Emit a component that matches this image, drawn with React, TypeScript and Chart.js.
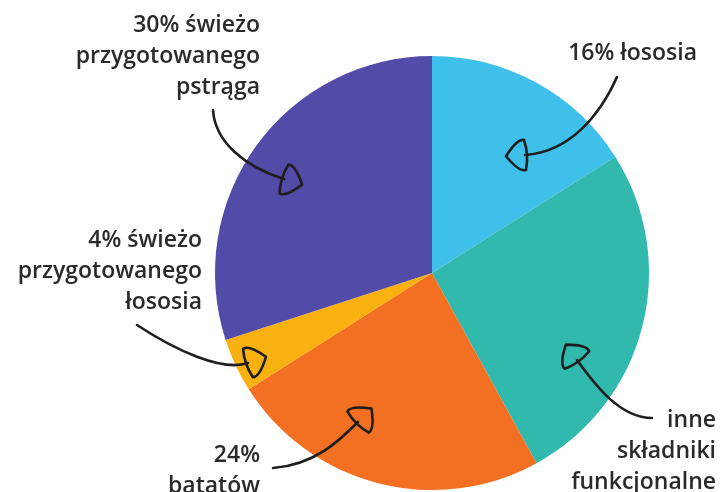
import React, { useEffect, useRef } from "react";
import { Chart, registerables } from "chart.js";

Chart.register(...registerables);

// ---- data ----
const categories = [
  "16% łososia",
  "inne składniki funkcjonalne",
  "24% batatów",
  "4% świeżo przygotowanego łososia",
  "30% świeżo przygotowanego pstrąga",
];
const values = [16, 26, 24, 4, 30];
const colors = ["#3FC0EA", "#31B9AD", "#F36F21", "#F9B10F", "#524BA7"];
const labelLines = [
  ["16% łososia"],
  ["inne", "składniki", "funkcjonalne"],
  ["24%", "batatów"],
  ["4% świeżo", "przygotowanego", "łososia"],
  ["30% świeżo", "przygotowanego", "pstrąga"],
];

// ---- annotation layout (callout text + hand-drawn arrows) ----
const labelAnchors = [
  { x: 697, y: 60 },
  { x: 716, y: 427 },
  { x: 260, y: 462 },
  { x: 202, y: 247 },
  { x: 260, y: 32 },
];
const LINE_H = 31;
const arrows = [
  { s: [617, 77], c1: [600, 115], c2: [570, 152], e: [525, 155] },
  { s: [652, 418], c1: [620, 418], c2: [595, 385], e: [577, 360] },
  { s: [273, 468], c1: [315, 465], c2: [340, 440], e: [358, 422] },
  { s: [137, 325], c1: [175, 350], c2: [222, 372], e: [248, 363] },
  { s: [213, 110], c1: [215, 142], c2: [245, 167], e: [284, 179] },
];

const calloutPlugin = {
  id: "callouts",
  afterDatasetsDraw(chart: any) {
    const ctx = chart.ctx as CanvasRenderingContext2D;
    ctx.save();
    ctx.strokeStyle = "#1e1e1e";
    ctx.lineWidth = 2.6;
    ctx.lineCap = "round";
    ctx.lineJoin = "round";
    arrows.forEach((a) => {
      ctx.beginPath();
      ctx.moveTo(a.s[0], a.s[1]);
      ctx.bezierCurveTo(a.c1[0], a.c1[1], a.c2[0], a.c2[1], a.e[0], a.e[1]);
      ctx.stroke();
      const dx = a.e[0] - a.c2[0];
      const dy = a.e[1] - a.c2[1];
      const len = Math.hypot(dx, dy) || 1;
      const ux = dx / len, uy = dy / len;
      const nx = -uy, ny = ux;
      const w = 30, h = 19;
      const b1x = a.e[0] + nx * w / 2, b1y = a.e[1] + ny * w / 2;
      const b2x = a.e[0] - nx * w / 2, b2y = a.e[1] - ny * w / 2;
      const ax = a.e[0] + ux * h, ay = a.e[1] + uy * h;
      ctx.beginPath();
      ctx.moveTo(b1x, b1y);
      ctx.quadraticCurveTo(b1x + ux * h * 0.35 + nx * 2, b1y + uy * h * 0.35 + ny * 2, ax, ay);
      ctx.quadraticCurveTo(b2x + ux * h * 0.35 - nx * 2, b2y + uy * h * 0.35 - ny * 2, b2x, b2y);
      ctx.quadraticCurveTo(a.e[0] - ux * 4, a.e[1] - uy * 4, b1x, b1y);
      ctx.closePath();
      ctx.stroke();
    });
    ctx.fillStyle = "#2a2a2a";
    ctx.font = "600 23px 'Open Sans'";
    ctx.textAlign = "right";
    ctx.textBaseline = "alphabetic";
    labelLines.forEach((lines, i) => {
      const p = labelAnchors[i];
      lines.forEach((t, j) => ctx.fillText(t, p.x, p.y + j * LINE_H));
    });
    ctx.restore();
  },
};

export default function App() {
  const ref = useRef<HTMLCanvasElement>(null);
  useEffect(() => {
    document.body.style.margin = "0";
    const chart = new Chart(ref.current!, {
      type: "pie",
      data: {
        labels: categories,
        datasets: [
          {
            data: values,
            backgroundColor: colors,
            borderWidth: 0,
          },
        ],
      },
      options: {
        responsive: false,
        animation: false,
        layout: { padding: { left: 215, right: 73, top: 56, bottom: 2 } },
        plugins: { legend: { display: false }, tooltip: { enabled: false } },
      },
      plugins: [calloutPlugin],
    });
    return () => chart.destroy();
  }, []);
  return (
    <div style={{ width: 722, height: 492, background: "#fff" }}>
      <canvas ref={ref} width={722} height={492} />
    </div>
  );
}
